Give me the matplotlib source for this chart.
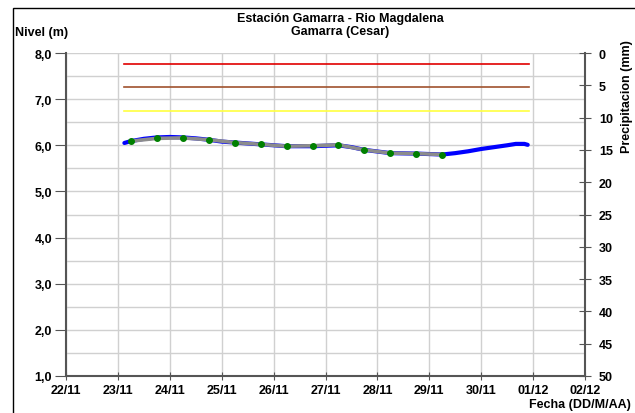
import numpy as np
import pandas as pd
import matplotlib
matplotlib.use("Agg")
import matplotlib.pyplot as plt
import matplotlib.dates as mdates
from matplotlib.patches import Rectangle
from matplotlib.ticker import FuncFormatter, MultipleLocator

plt.rcParams["font.family"] = ["Liberation Sans", "DejaVu Sans"]
plt.rcParams["font.weight"] = "bold"

# ── Data ────────────────────────────────────────────────────────────────────
# manual readings, 06:00 and 18:00 (green dots on grey line)
obs_times = ["2023-11-23 06:00", "2023-11-23 18:00", "2023-11-24 06:00",
             "2023-11-24 18:00", "2023-11-25 06:00", "2023-11-25 18:00",
             "2023-11-26 06:00", "2023-11-26 18:00", "2023-11-27 06:00",
             "2023-11-27 18:00", "2023-11-28 06:00", "2023-11-28 18:00",
             "2023-11-29 06:00"]
obs_level = [6.09, 6.15, 6.16, 6.12, 6.06, 6.02, 5.98, 5.99, 6.01,
             5.90, 5.83, 5.82, 5.80]

# automatic sensor series (blue line)
auto_times = ["2023-11-23 03:00", "2023-11-23 06:00", "2023-11-23 12:00",
              "2023-11-23 18:00", "2023-11-24 00:00", "2023-11-24 06:00",
              "2023-11-24 12:00", "2023-11-24 18:00", "2023-11-25 00:00",
              "2023-11-25 06:00", "2023-11-25 18:00", "2023-11-26 06:00",
              "2023-11-26 18:00", "2023-11-27 06:00", "2023-11-27 12:00",
              "2023-11-27 18:00", "2023-11-28 06:00", "2023-11-28 18:00",
              "2023-11-29 06:00", "2023-11-29 12:00", "2023-11-29 18:00",
              "2023-11-30 00:00", "2023-11-30 06:00", "2023-11-30 12:00",
              "2023-11-30 16:00", "2023-11-30 20:00", "2023-11-30 21:30"]
auto_level = [6.05, 6.09, 6.14, 6.17, 6.18, 6.17, 6.15, 6.12, 6.08,
              6.06, 6.02, 5.98, 5.98, 6.00, 5.96, 5.90, 5.83, 5.82,
              5.80, 5.83, 5.87, 5.92, 5.96, 6.00, 6.03, 6.03, 6.01]

# alert thresholds
thr_start = "2023-11-23 03:00"
thr_end = "2023-11-30 22:00"
thr_levels = [7.76, 7.26, 6.75]
thr_colors = ["#e00000", "#a0522d", "#ffff40"]

x_start = "2023-11-22"
x_end = "2023-12-02"

title = "Estación Gamarra - Rio Magdalena\nGamarra (Cesar)"

# ── Plot ────────────────────────────────────────────────────────────────────
fs = 9
fig = plt.figure(figsize=(6.35, 4.14), dpi=100)
fig.patches.append(Rectangle((13 / 635, -0.1), 1.0, (414 - 9) / 414 + 0.1,
                             transform=fig.transFigure, fill=False,
                             edgecolor="black", linewidth=1.0))

ax = fig.add_axes([66 / 635, 1 - 377 / 414, 519 / 635, 323 / 414])
axis_col = "#555555"

for lvl, col in zip(thr_levels, thr_colors):
    ax.plot(pd.to_datetime([thr_start, thr_end]), [lvl, lvl], color=col,
            linewidth=1.2, zorder=3)

ax.plot(pd.to_datetime(auto_times), auto_level, color="#0000ff",
        linewidth=3.0, zorder=4, solid_capstyle="round")
ax.plot(pd.to_datetime(obs_times), obs_level, color="#8c8c8c",
        linewidth=2.6, zorder=5)
ax.plot(pd.to_datetime(obs_times), obs_level, linestyle="none", marker="o",
        markersize=4, color="#008000", zorder=6)

ax.set_xlim(pd.to_datetime(x_start), pd.to_datetime(x_end))
ax.set_ylim(1.0, 8.0)
ax.xaxis.set_major_locator(mdates.DayLocator())
ax.xaxis.set_major_formatter(mdates.DateFormatter("%d/%m"))
ax.yaxis.set_major_locator(MultipleLocator(1.0))
ax.yaxis.set_minor_locator(MultipleLocator(0.5))
ax.yaxis.set_major_formatter(FuncFormatter(lambda v, p: f"{v:.1f}".replace(".", ",")))

ax.grid(True, which="both", axis="y", color="#d0d0d0", linewidth=1.0)
ax.grid(True, which="major", axis="x", color="#d0d0d0", linewidth=1.0)
ax.set_axisbelow(True)

for side in ["left", "bottom"]:
    ax.spines[side].set_color(axis_col)
    ax.spines[side].set_linewidth(1.5)
ax.spines["top"].set_visible(False)
ax.spines["right"].set_visible(False)
ax.tick_params(axis="y", which="major", direction="out", length=8,
               color=axis_col, labelsize=fs, pad=2)
ax.tick_params(axis="y", which="minor", length=0)
ax.tick_params(axis="x", direction="inout", length=6, color=axis_col,
               labelsize=fs, pad=3)

ax2 = ax.twinx()
ax2.set_ylim(50, 0)
ax2.yaxis.set_major_locator(MultipleLocator(5))
for side in ["left", "bottom", "top"]:
    ax2.spines[side].set_visible(False)
ax2.spines["right"].set_color(axis_col)
ax2.spines["right"].set_linewidth(1.5)
ax2.tick_params(axis="y", direction="inout", length=8, color=axis_col,
                labelsize=fs, pad=6)

fig.text(340 / 635, 1 - 25.5 / 414, title, ha="center", va="center",
         fontsize=fs, fontweight="bold", linespacing=1.2)
fig.text(15 / 635, 1 - 33 / 414, "Nivel (m)", ha="left", va="center",
         fontsize=fs, fontweight="bold")
fig.text(627 / 635, 1 - 97 / 414, "Precipitacion (mm)", ha="center",
         va="center", rotation=90, fontsize=fs, fontweight="bold")
fig.text(631 / 635, 1 - 405 / 414, "Fecha (DD/M/AA)", ha="right",
         va="center", fontsize=fs, fontweight="bold")

fig.savefig("out.png", dpi=100)
